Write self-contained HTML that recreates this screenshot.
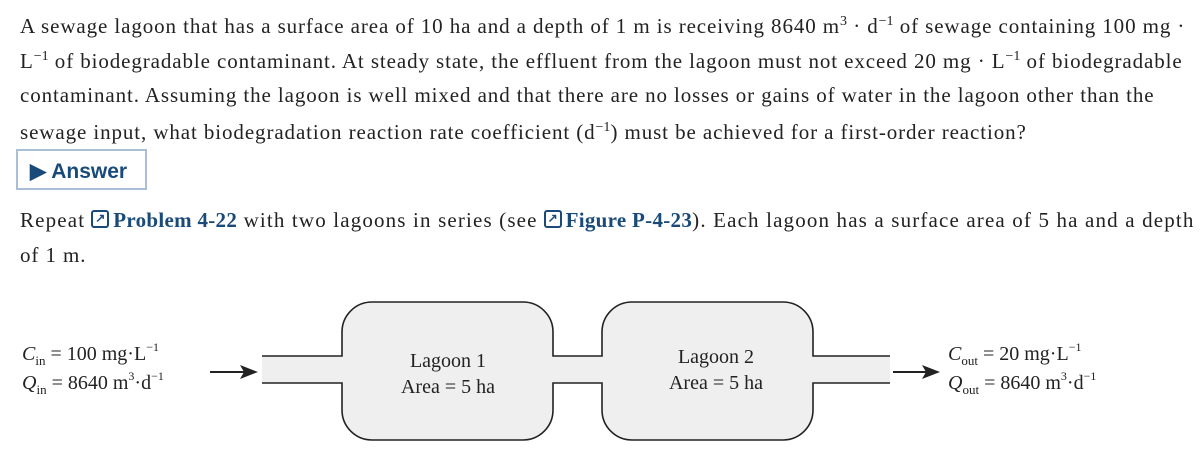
<!DOCTYPE html>
<html><head><meta charset="utf-8"><style>
body{margin:0;width:1201px;height:453px;overflow:hidden;background:#fff;font-family:"Liberation Serif",serif;color:#222;position:relative}
.p{position:absolute;left:20px;font-size:21px;letter-spacing:0.9px;white-space:nowrap;line-height:20px}
.b{color:#1a4a7a;font-weight:bold;letter-spacing:0.3px}
.ans{position:absolute;left:16px;top:149px;width:131px;height:41px;border:2px solid #a9bfd6;box-sizing:border-box}
.ans span{position:absolute;left:12px;top:8px;font-family:"Liberation Sans",sans-serif;font-weight:bold;font-size:21px;color:#1a4a7a}
.ic{display:inline-block;width:18px;height:18px;border:2px solid #1a4a7a;border-radius:3px;box-sizing:border-box;vertical-align:-1px;margin:0 4px 0 6px;position:relative}
.ic:after{content:"↗";position:absolute;left:2px;top:-4px;font-size:12px;color:#1a4a7a;font-weight:bold}
sup{font-size:14px;letter-spacing:0}
</style></head><body>
<div class="p" style="top:12px">A sewage lagoon that has a surface area of 10 ha and a depth of 1 m is receiving 8640 m<sup>3</sup> · d<sup>−1</sup> of sewage containing 100 mg ·</div>
<div class="p" style="top:47px">L<sup>−1</sup> of biodegradable contaminant. At steady state, the effluent from the lagoon must not exceed 20 mg · L<sup>−1</sup> of biodegradable</div>
<div class="p" style="top:85px">contaminant. Assuming the lagoon is well mixed and that there are no losses or gains of water in the lagoon other than the</div>
<div class="p" style="top:118px">sewage input, what biodegradation reaction rate coefficient (d<sup>−1</sup>) must be achieved for a first-order reaction?</div>
<div class="ans"><span>▶ Answer</span></div>
<div class="p" style="top:210px;letter-spacing:1.15px">Repeat<span class="ic"></span><span class="b">Problem 4‑22</span> with two lagoons in series (see<span class="ic"></span><span class="b">Figure P-4-23</span>). Each lagoon has a surface area of 5 ha and a depth</div>
<div class="p" style="top:245px">of 1 m.</div>
<svg width="1201" height="453" style="position:absolute;left:0;top:0" font-family="Liberation Serif, serif" font-size="20">
<g fill="#efefef" stroke="none">
<rect x="262" y="356" width="628" height="27"/>
<rect x="342" y="302" width="211" height="138" rx="30"/>
<rect x="602" y="302" width="211" height="138" rx="30"/>
</g>
<g fill="none" stroke="#222" stroke-width="1.6">
<path d="M262 356H342V332A30 30 0 0 1 372 302H523A30 30 0 0 1 553 332V356H602V332A30 30 0 0 1 632 302H783A30 30 0 0 1 813 332V356H890"/>
<path d="M262 383H342V410A30 30 0 0 0 372 440H523A30 30 0 0 0 553 410V383H602V410A30 30 0 0 0 632 440H783A30 30 0 0 0 813 410V383H890"/>
<path d="M210 372H248M893 372H930" stroke-width="2"/>
</g>
<path d="M258 372L240 365L244 372L240 379Z M940 372L922 365L926 372L922 379Z" fill="#222"/>
<g fill="#222" text-anchor="middle">
<text x="448" y="367">Lagoon 1</text><text x="448" y="393">Area = 5 ha</text>
<text x="716" y="363">Lagoon 2</text><text x="716" y="389">Area = 5 ha</text>
</g>
<g fill="#222">
<text x="22" y="360"><tspan font-style="italic">C</tspan><tspan font-size="13" dy="5">in</tspan><tspan dy="-5"> = 100 mg·L</tspan><tspan font-size="12" dy="-9">−1</tspan></text>
<text x="22" y="389"><tspan font-style="italic">Q</tspan><tspan font-size="13" dy="5">in</tspan><tspan dy="-5"> = 8640 m</tspan><tspan font-size="12" dy="-9">3</tspan><tspan dy="9">·d</tspan><tspan font-size="12" dy="-9">−1</tspan></text>
<text x="948" y="360"><tspan font-style="italic">C</tspan><tspan font-size="13" dy="5">out</tspan><tspan dy="-5"> = 20 mg·L</tspan><tspan font-size="12" dy="-9">−1</tspan></text>
<text x="948" y="389"><tspan font-style="italic">Q</tspan><tspan font-size="13" dy="5">out</tspan><tspan dy="-5"> = 8640 m</tspan><tspan font-size="12" dy="-9">3</tspan><tspan dy="9">·d</tspan><tspan font-size="12" dy="-9">−1</tspan></text>
</g>
</svg>
</body></html>
